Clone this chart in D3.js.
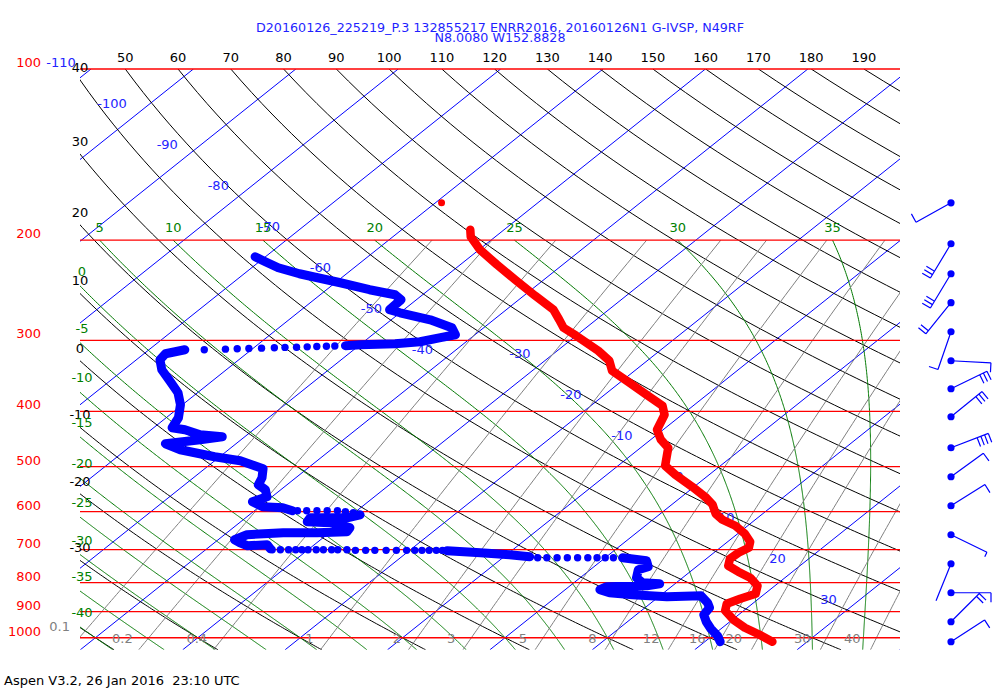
<!DOCTYPE html>
<html>
<head>
<meta charset="utf-8">
<script src="https://cdn.jsdelivr.net/npm/d3@7"></script>
<style>
  body { margin: 0; background: #fff; }
  text { font-family: "DejaVu Sans", sans-serif; font-size: 13px; }
</style>
</head>
<body>
<svg id="chart" width="1000" height="700"></svg>
<script>
const titleLines = ["D20160126_225219_P.3 132855217 ENRR2016, 20160126N1 G-IVSP, N49RF", "N8.0080 W152.8828"];
const footer = "Aspen V3.2, 26 Jan 2016  23:10 UTC";

const isobars = [100, 200, 300, 400, 500, 600, 700, 800, 900, 1000];
const isotherms = [-150, -140, -130, -120, -110, -100, -90, -80, -70, -60, -50, -40, -30, -20, -10, 0, 10, 20, 30, 40, 50];
const isothermLabels = [-110, -100, -90, -80, -70, -60, -50, -40, -30, -20, -10, 0, 10, 20, 30];
const dryAdiabats = [-40, -30, -20, -10, 0, 10, 20, 30, 40, 50, 60, 70, 80, 90, 100, 110, 120, 130, 140, 150, 160, 170, 180, 190, 200];
const dryLabels = [-30, -20, -10, 0, 10, 20, 30, 40, 50, 60, 70, 80, 90, 100, 110, 120, 130, 140, 150, 160, 170, 180, 190];
const moistAdiabats = [-45, -40, -35, -30, -25, -20, -15, -10, -5, 0, 5, 10, 15, 20, 25, 30, 35, 40];
const moistLabels = [-40, -35, -30, -25, -20, -15, -10, -5, 0, 5, 10, 15, 20, 25, 30, 35];
const mixingRatios = [0.1, 0.2, 0.4, 1, 2, 3, 5, 8, 12, 16, 20, 30, 40];

// temperature profile (hPa, degC)
const tempP = [191.7, 197.2, 207.9, 220.9, 234.7, 250.4, 265.0, 276.0, 285.1, 294.4, 312.9, 325.8, 339.3, 354.7, 373.9, 390.9, 405.4,
  430.8, 448.6, 463.4, 498.4, 516.9, 542.6, 565.1, 583.6, 605.3, 620.2, 635.5, 656.3, 678.0, 694.6, 708.8, 726.2, 747.2, 765.5,
  784.3, 810.2, 836.9, 853.9, 871.4, 896.5, 929.7, 960.3, 987.9, 1016.3];
const tempT = [-53.3, -52.4, -49.9, -46.4, -42.8, -38.9, -35.4, -33.6, -32.2, -30.0, -26.0, -23.7, -22.2, -19.3, -15.9, -13.0, -11.7,
  -10.6, -9.0, -7.3, -5.4, -3.3, -0.2, 2.3, 4.0, 5.4, 6.8, 8.8, 10.7, 12.2, 12.8, 12.4, 12.3, 13.0, 14.7,
  16.6, 18.3, 19.1, 18.2, 17.5, 18.2, 20.1, 22.2, 24.5, 26.6];
const tempDotP = [171.9];
const tempDotT = [-59.4];

// dewpoint profile: dense parts (null = break) and sparse single points
const tdLineP = [213.9, 218.2, 223.6, 229.1, 237.6, 244.4, 249.4, 254.5, 265.0, 268.3, 276.0, 285.1, 293.3, 296.8, 301.7, 304.1, 305.4, 306.6, null,
  311.6, 316.7, 324.5, 337.9, 354.7, 370.9, 389.3, 410.4, 427.3, 430.8, 439.6, 443.2, 448.6, 455.9, 467.2, 480.6, 488.4, 504.5, 523.2, 538.3, 549.3, 565.1, 576.6, 588.4, 590.8, 598.0, null,
  607.8, 615.2, 615.2, 625.2, 627.8, 640.6, 651.1, 653.7, 653.7, 659.0, 672.5, 680.7, 689.0, 686.2, 697.5, null,
  703.1, 708.8, 714.6, 720.4, null,
  723.3, 732.2, 750.2, 759.3, 784.3, 800.4, 803.6, 810.2, 813.4, 823.4, 833.5, 840.2, 847.0, 843.6, 867.9, 885.6, 911.1, 937.3, 964.2, 991.9, 1016.3];
const tdLineT = [-71.0, -69.4, -67.4, -64.6, -59.5, -55.8, -52.7, -51.5, -51.4, -50.0, -46.2, -43.1, -41.9, -43.0, -44.5, -46.7, -50.0, -51.3, null,
  -66.5, -67.9, -67.7, -66.3, -64.0, -61.9, -60.2, -58.8, -58.2, -56.7, -54.6, -52.2, -54.0, -56.9, -54.7, -50.5, -47.5, -44.3, -43.3, -42.8, -41.5, -40.5, -41.3, -39.7, -37.6, -36.3, null,
  -29.2, -30.1, -33.7, -33.5, -31.2, -28.6, -28.4, -31.2, -34.5, -37.8, -38.4, -37.5, -36.4, -34.6, -33.8, null,
  -16.3, -12.8, -9.7, -7.5, null,
  1.7, 4.4, 5.3, 4.7, 5.5, 6.7, 8.5, 7.5, 3.7, 3.4, 4.7, 7.2, 10.8, 14.0, 15.5, 16.3, 16.6, 17.7, 19.0, 20.5, 21.5];
const tdDotP = [307.0, 307.2, 307.6, 308.0, 308.4, 308.7, 309.1, 309.6, 310.0, 310.4, 310.9, 311.6,
  598.0, 598.0, 598.0, 598.0, 598.0, 600.4, 602.9,
  700.3, 700.3, 700.3, 700.3, 700.3, 700.3, 700.3, 700.3, 700.3, 700.3, 700.3,
  702.0, 702.0, 702.0, 702.0, 702.0, 702.0, 702.0, 702.0, 702.0, 702.0, 702.0,
  723.3, 723.3, 723.3, 723.3, 723.3, 723.3, 723.3, 723.3, 723.3];
const tdDotT = [-52.3, -53.1, -54.0, -54.9, -55.9, -57.0, -58.0, -59.2, -60.4, -61.5, -62.6, -64.6,
  -35.8, -34.9, -33.9, -32.9, -31.9, -31.0, -30.1,
  -33.5, -32.7, -31.9, -31.2, -30.6, -30.0, -29.2, -28.5, -27.7, -27.1, -26.2,
  -25.3, -24.3, -23.4, -22.3, -21.3, -20.3, -19.5, -18.8, -18.1, -17.4, -16.8,
  -6.6, -5.7, -4.7, -3.7, -2.7, -1.7, -0.8, 0.0, 0.8];

// wind barbs (hPa, direction deg, speed kt)
const windP = [171.9, 202.9, 229.1, 257.6, 289.7, 325.8, 364.9, 408.7, 463.4, 521.1, 586.0, 659.0, 741.1, 833.5, 937.3, 1016.3];
const windDir = [241, 211, 211, 219, 199, 93, 64, 51, 69, 54, 58, 116, 202, 90, 45, 57];
const windSpd = [10, 30, 30, 20, 10, 10, 30, 30, 40, 10, 10, 5, 0, 10, 20, 10];

// ---- geometry ----
const plot = { left: 80, right: 900, top: 69 };
const y = d3.scaleLog().domain([100, 1050]).range([69, 69 + 247 * Math.log(10.5)]);
const xT = d3.scaleLinear().domain([0, 10]).range([505, 607.4]);
const skew = 309.4 / 247;
const X = (t, p) => xT(t) + (y(1000) - y(p)) * skew;
plot.bottom = y(1050);

const svg = d3.select("#chart");
svg.append("defs").append("clipPath").attr("id", "clip")
  .append("rect").attr("x", plot.left).attr("y", plot.top)
  .attr("width", plot.right - plot.left).attr("height", plot.bottom - plot.top);

const grid = svg.append("g").attr("clip-path", "url(#clip)");
const line = d3.line().x(d => X(d[1], d[0])).y(d => y(d[0]));

function esat(tc) { return 6.112 * Math.exp(17.67 * tc / (tc + 243.5)); }
function dryT(theta, p) { return (theta + 273.15) * Math.pow(p / 1000, 0.288) - 273.15; }
function mixT(w, p) {
  const es = w * p / (622 + w), l = Math.log(es / 6.112);
  return 243.5 * l / (17.67 - l);
}
function dTdp(p, T) {
  const es = esat(T - 273.15), rs = 0.622 * es / (p - es);
  const Lv = 2.501e6, Rd = 287.04, cp = 1005.7;
  return (Rd * T + Lv * rs) / (p * (cp + Lv * Lv * rs * 0.622 / (Rd * T * T)));
}
function rk4(p, T, h) {
  const k1 = dTdp(p, T), k2 = dTdp(p + h / 2, T + h / 2 * k1);
  const k3 = dTdp(p + h / 2, T + h / 2 * k2), k4 = dTdp(p + h, T + h * k3);
  return T + h / 6 * (k1 + 2 * k2 + 2 * k3 + k4);
}
function moist(tw) {
  const up = [], down = [];
  let T = tw + 273.15;
  for (let p = 1000; p >= 200; p -= 2) { up.push([p, T - 273.15]); T = rk4(p, T, -2); }
  T = tw + 273.15;
  for (let p = 1000; p <= 1050; p += 2) { down.push([p, T - 273.15]); T = rk4(p, T, 2); }
  return down.reverse().concat(up.slice(1));
}

const pFull = d3.range(1050, 99, -5);
const pLow = d3.range(1050, 199, -10);

// isotherms
grid.selectAll(".iso").data(isotherms).join("path")
  .attr("d", t => line([[1050, t], [100, t]]))
  .attr("fill", "none").attr("stroke", "#0000ff").attr("stroke-width", 1);

// dry adiabats
grid.selectAll(".dry").data(dryAdiabats).join("path")
  .attr("d", th => line(pFull.map(p => [p, dryT(th, p)])))
  .attr("fill", "none").attr("stroke", "#000").attr("stroke-width", 1);

// moist adiabats
const moistCurves = moistAdiabats.map(tw => ({ tw, pts: moist(tw) }));
grid.selectAll(".moist").data(moistCurves).join("path")
  .attr("d", d => line(d.pts))
  .attr("fill", "none").attr("stroke", "#007800").attr("stroke-width", 1);

// mixing ratio lines
grid.selectAll(".mix").data(mixingRatios).join("path")
  .attr("d", w => line(pLow.map(p => [p, mixT(w, p)])))
  .attr("fill", "none").attr("stroke", "#808080").attr("stroke-width", 1);

// isobars
svg.selectAll(".isobar").data(isobars).join("line")
  .attr("x1", plot.left).attr("x2", plot.right)
  .attr("y1", p => y(p)).attr("y2", p => y(p))
  .attr("stroke", "#ff0000").attr("stroke-width", 1.3);

// ---- labels ----
svg.selectAll(".plab").data(isobars).join("text")
  .attr("x", 41).attr("y", p => y(p) - 2).attr("text-anchor", "end")
  .attr("fill", "#ff0000").text(p => p);

// dry adiabat labels: top edge if it crosses there, else left edge
function leftCrossing(fx) {
  let lo = 100, hi = 1050;
  if (fx(hi) < plot.left || fx(lo) > plot.left) return null;
  for (let i = 0; i < 50; i++) { const m = (lo + hi) / 2; if (fx(m) < plot.left) lo = m; else hi = m; }
  return (lo + hi) / 2;
}
dryLabels.forEach(th => {
  const xt = X(dryT(th, 100), 100);
  if (xt >= plot.left && xt <= plot.right) {
    svg.append("text").attr("x", xt).attr("y", plot.top - 7).attr("text-anchor", "middle").text(th);
  } else {
    const pc = leftCrossing(p => X(dryT(th, p), p));
    if (pc) svg.append("text").attr("x", plot.left).attr("y", y(pc) - 8).attr("text-anchor", "middle").text(th);
  }
});

// moist adiabat labels
moistCurves.filter(d => moistLabels.includes(d.tw)).forEach(d => {
  const top = d.pts[d.pts.length - 1];
  const xt = X(top[1], top[0]);
  if (xt >= plot.left && xt <= plot.right) {
    svg.append("text").attr("x", xt).attr("y", y(200) - 8).attr("text-anchor", "middle")
      .attr("fill", "#008000").text(d.tw);
  } else {
    for (let i = d.pts.length - 1; i > 0; i--) {
      const a = d.pts[i], b = d.pts[i - 1];
      const xa = X(a[1], a[0]), xb = X(b[1], b[0]);
      if (xa < plot.left && xb >= plot.left) {
        const f = (plot.left - xa) / (xb - xa);
        const yc = y(a[0]) + f * (y(b[0]) - y(a[0]));
        svg.append("text").attr("x", plot.left + 2).attr("y", yc - 10).attr("text-anchor", "middle")
          .attr("fill", "#008000").text(d.tw);
        break;
      }
    }
  }
});

// isotherm labels along two diagonals
isothermLabels.forEach(t => {
  const yc = t < -35 ? 62 + 4.1 * (t + 110) : 353 + 4.1 * (t + 30);
  const pc = y.invert(yc);
  const xr = X(t, pc) - 24;
  svg.append("text").attr("x", xr).attr("y", yc + 5).attr("text-anchor", "end")
    .attr("fill", "#2424ff").text(t);
});

// mixing ratio labels at 1000 hPa
mixingRatios.forEach(w => {
  const xc = X(mixT(w, 1000), 1000);
  const inside = xc > plot.left + 5;
  svg.append("text")
    .attr("x", inside ? xc - 16 : plot.left - 10)
    .attr("y", inside ? y(1000) + 5 : y(1000) - 7)
    .attr("text-anchor", "end").attr("fill", "#808080").text(w);
});

// ---- profiles ----
const prof = svg.append("g").attr("clip-path", "url(#clip)");
const profLine = d3.line().defined(d => d[0] !== null).x(d => X(d[1], d[0])).y(d => y(d[0]));

prof.append("path")
  .attr("d", profLine(tdLineP.map((p, i) => [p, tdLineT[i]])))
  .attr("fill", "none").attr("stroke", "#0000ff").attr("stroke-width", 9)
  .attr("stroke-linecap", "round").attr("stroke-linejoin", "round");
prof.selectAll(".tddot").data(tdDotP.map((p, i) => [p, tdDotT[i]])).join("circle")
  .attr("cx", d => X(d[1], d[0])).attr("cy", d => y(d[0])).attr("r", 3.7).attr("fill", "#0000ff");

prof.append("path")
  .attr("d", profLine(tempP.map((p, i) => [p, tempT[i]])))
  .attr("fill", "none").attr("stroke", "#ff0000").attr("stroke-width", 8.5)
  .attr("stroke-linecap", "round").attr("stroke-linejoin", "round");
prof.selectAll(".tdot").data(tempDotP.map((p, i) => [p, tempDotT[i]])).join("circle")
  .attr("cx", d => X(d[1], d[0])).attr("cy", d => y(d[0])).attr("r", 3.5).attr("fill", "#ff0000");

// ---- wind barbs ----
const bx = 951, staff = 40;
const barbs = svg.append("g");
windP.forEach((p, i) => {
  const cy = y(p), a = windDir[i] * Math.PI / 180;
  const ux = Math.sin(a), uy = -Math.cos(a), px = -uy, py = ux;
  let d = `M${bx},${cy}L${bx + ux * staff},${cy + uy * staff}`;
  let pos = staff, spd = windSpd[i];
  const full = Math.floor(spd / 10), half = Math.round((spd % 10) / 5);
  for (let k = 0; k < full; k++) {
    const sx = bx + ux * pos, sy = cy + uy * pos;
    d += `M${sx},${sy}L${sx + px * 9.5},${sy + py * 9.5}`;
    pos -= 4;
  }
  if (half) {
    const sx = bx + ux * pos, sy = cy + uy * pos;
    d += `M${sx},${sy}L${sx + px * 5},${sy + py * 5}`;
  }
  barbs.append("path").attr("d", d).attr("fill", "none").attr("stroke", "#0000ff").attr("stroke-width", 1.2);
  barbs.append("circle").attr("cx", bx).attr("cy", cy).attr("r", 3.6).attr("fill", "#0000ff");
});

// ---- title / footer ----
svg.append("text").attr("x", 500).attr("y", 32).attr("text-anchor", "middle").attr("fill", "#1f1fff")
  .style("font-size", "12.7px").text(titleLines[0]);
svg.append("text").attr("x", 500).attr("y", 42).attr("text-anchor", "middle").attr("fill", "#1f1fff")
  .style("font-size", "12.7px").text(titleLines[1]);
svg.append("text").attr("x", 4).attr("y", 685).attr("xml:space", "preserve").style("white-space", "pre").text(footer);
</script>
</body>
</html>
